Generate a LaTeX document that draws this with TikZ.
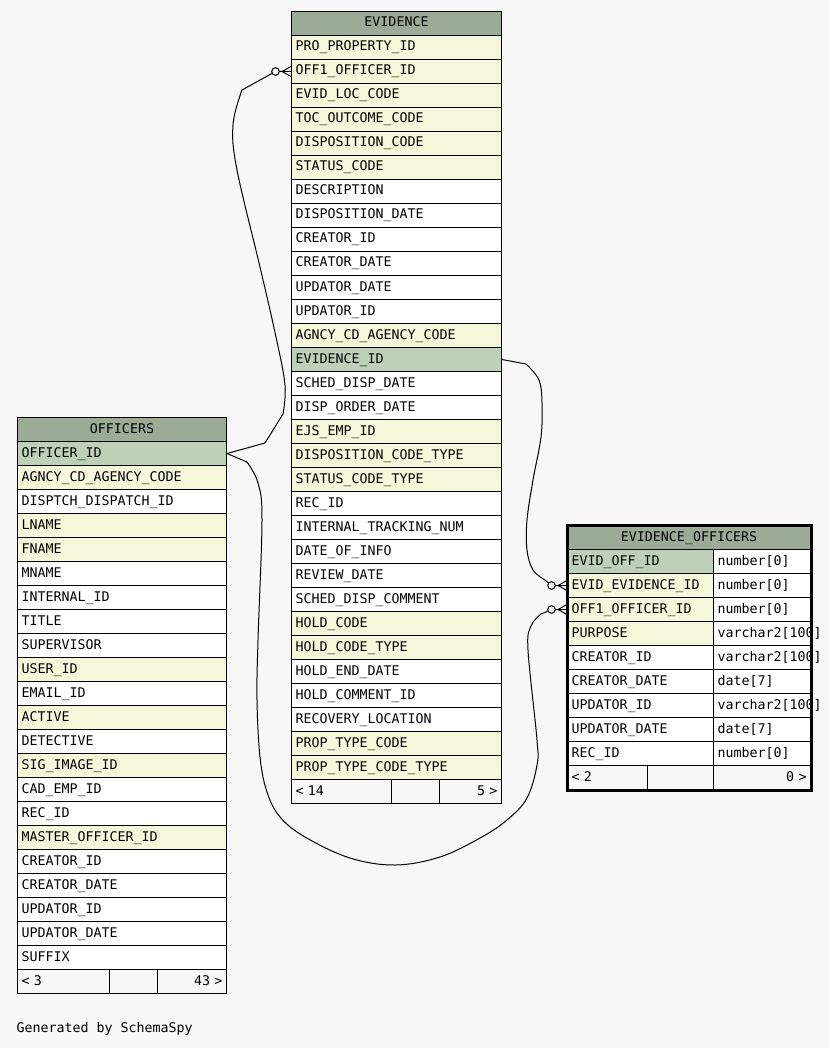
\documentclass[tikz,border=0pt]{standalone}
\usepackage{fontspec}
\setmonofont{DejaVu Sans Mono}
\definecolor{bgcol}{HTML}{F7F7F7}
\definecolor{hdrcol}{HTML}{9BAB96}
\definecolor{pkcol}{HTML}{BED1B8}
\definecolor{fkcol}{HTML}{F4F7DA}
% zero-or-many end at a table edge
\newcommand{\manyend}[1]{%
  \draw ([yshift=5pt]#1) -- ([xshift=-9pt]#1) -- ([yshift=-5pt]#1);
  \draw ([xshift=-9pt]#1) -- (#1);
  \draw[fill=bgcol] ([xshift=-15.5pt]#1) circle[radius=3.8pt];
}
\begin{document}
\begin{tikzpicture}[x=1pt, y=-1pt, line width=1pt,
    every node/.style={font=\ttfamily\fontsize{13.3}{16}\selectfont},
    cell/.style={draw, anchor=north west, inner xsep=4pt, text width=#1, align=left,
      minimum height=24pt, text height=9.5pt, text depth=2.5pt},
    rcell/.style={cell=#1, align=right},
    tblhead/.style={draw, fill=hdrcol, anchor=north west, minimum width=#1,
      minimum height=24pt, text height=9.5pt, text depth=2.5pt},
    pkcell/.style={fill=pkcol}, fkcell/.style={fill=fkcol}, wcell/.style={fill=white}]
  \fill[bgcol] (0,0) rectangle (829,1048);
  \useasboundingbox (0,0) rectangle (829,1048);

  % EVIDENCE
  \node[tblhead=210pt] (ev-h) at (291,11) {EVIDENCE};
  \foreach \txt/\kind [count=\i from 0] in {PRO\_PROPERTY\_ID/fkcell, OFF1\_OFFICER\_ID/fkcell,
      EVID\_LOC\_CODE/fkcell, TOC\_OUTCOME\_CODE/fkcell, DISPOSITION\_CODE/fkcell,
      STATUS\_CODE/fkcell, DESCRIPTION/wcell, DISPOSITION\_DATE/wcell, CREATOR\_ID/wcell,
      CREATOR\_DATE/wcell, UPDATOR\_DATE/wcell, UPDATOR\_ID/wcell, AGNCY\_CD\_AGENCY\_CODE/fkcell,
      EVIDENCE\_ID/pkcell, SCHED\_DISP\_DATE/wcell, DISP\_ORDER\_DATE/wcell, EJS\_EMP\_ID/fkcell,
      DISPOSITION\_CODE\_TYPE/fkcell, STATUS\_CODE\_TYPE/fkcell, REC\_ID/wcell,
      INTERNAL\_TRACKING\_NUM/wcell, DATE\_OF\_INFO/wcell, REVIEW\_DATE/wcell,
      SCHED\_DISP\_COMMENT/wcell, HOLD\_CODE/fkcell, HOLD\_CODE\_TYPE/fkcell,
      HOLD\_END\_DATE/wcell, HOLD\_COMMENT\_ID/wcell, RECOVERY\_LOCATION/wcell,
      PROP\_TYPE\_CODE/fkcell, PROP\_TYPE\_CODE\_TYPE/fkcell}
    \node[cell=202pt, \kind] (ev-\i) at (291,{35+24*\i}) {\txt};
  \node[cell=92pt] (ev-f1) at (291,779) {< 14};
  \node[cell=40pt] (ev-f2) at (391,779) {};
  \node[rcell=54pt] (ev-f3) at (439,779) {5 >};

  % OFFICERS
  \node[tblhead=209pt] (off-h) at (17,417) {OFFICERS};
  \foreach \txt/\kind [count=\i from 0] in {OFFICER\_ID/pkcell, AGNCY\_CD\_AGENCY\_CODE/fkcell,
      DISPTCH\_DISPATCH\_ID/wcell, LNAME/fkcell, FNAME/fkcell, MNAME/wcell, INTERNAL\_ID/wcell,
      TITLE/wcell, SUPERVISOR/wcell, USER\_ID/fkcell, EMAIL\_ID/wcell, ACTIVE/fkcell,
      DETECTIVE/wcell, SIG\_IMAGE\_ID/fkcell, CAD\_EMP\_ID/wcell, REC\_ID/wcell,
      MASTER\_OFFICER\_ID/fkcell, CREATOR\_ID/wcell, CREATOR\_DATE/wcell, UPDATOR\_ID/wcell,
      UPDATOR\_DATE/wcell, SUFFIX/wcell}
    \node[cell=201pt, \kind] (off-\i) at (17,{441+24*\i}) {\txt};
  \node[cell=84pt] (off-f1) at (17,969) {< 3};
  \node[cell=40pt] (off-f2) at (109,969) {};
  \node[rcell=61pt] (off-f3) at (157,969) {43 >};

  % EVIDENCE_OFFICERS
  \node[tblhead=243pt] (eo-h) at (567,525) {EVIDENCE\_OFFICERS};
  \foreach \txt/\kind/\typ [count=\i from 0] in {EVID\_OFF\_ID/pkcell/number[0],
      EVID\_EVIDENCE\_ID/fkcell/number[0], OFF1\_OFFICER\_ID/fkcell/number[0],
      PURPOSE/fkcell/varchar2[100], CREATOR\_ID/wcell/varchar2[100], CREATOR\_DATE/wcell/date[7],
      UPDATOR\_ID/wcell/varchar2[100], UPDATOR\_DATE/wcell/date[7], REC\_ID/wcell/number[0]}
  {
    \node[cell=138pt, \kind] (eo-\i) at (567,{549+24*\i}) {\txt};
    \node[cell=89pt, wcell] (eo-t\i) at (713,{549+24*\i}) {\typ};
  }
  \node[cell=72pt] (eo-f1) at (567,765) {< 2};
  \node[cell=58pt] (eo-f2) at (647,765) {};
  \node[rcell=89pt] (eo-f3) at (713,765) {0 >};

  % connectors
  \draw (off-0.east) -- (265,443) -- plot[smooth, tension=0.6] coordinates {(283,414)
      (285,385) (276,337) (260,267) (237,170) (233,125) (242,90)}
    -- ([xshift=-15.5pt]ev-1.west) -- (ev-1.west);
  \draw (ev-13.east) -- plot[smooth, tension=0.6] coordinates {(526,364) (539,380) (542,403)
      (541,437) (533,480) (527,520) (527,550) (533,570) (545,580)}
    -- ([xshift=-15.5pt]eo-1.west) -- (eo-1.west);
  \draw (off-0.east) -- plot[smooth, tension=0.6] coordinates {(247,462) (258,483) (262,520)
      (258,640) (257,700) (260,757) (267,792) (280,817) (305,837) (350,858) (395,865)
      (440,857) (480,838) (507,820) (527,798) (537,765) (537,740) (528,650) (531,626)
      (541,614)} -- ([xshift=-15.5pt]eo-2.west) -- (eo-2.west);
  \manyend{ev-1.west}
  \manyend{eo-1.west}
  \manyend{eo-2.west}

  \draw[line width=3pt] (eo-h.north west) rectangle (eo-f3.south east);

  \node[anchor=west, inner sep=0pt] (credit) at (16,1029) {Generated by SchemaSpy};
\end{tikzpicture}
\end{document}
